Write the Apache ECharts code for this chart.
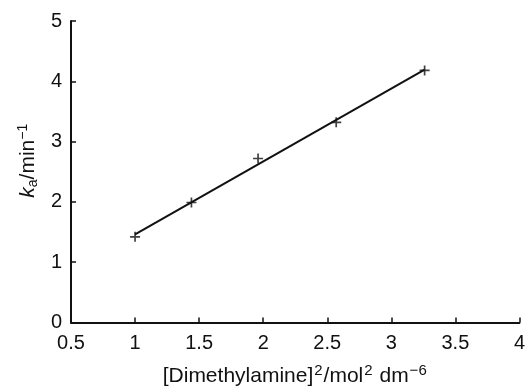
<!DOCTYPE html>
<html>
<head>
<meta charset="utf-8">
<script src="https://cdn.jsdelivr.net/npm/echarts@6/dist/echarts.min.js"></script>
<style>
  html, body { margin: 0; padding: 0; background: #fff; }
  #chart { width: 528px; height: 392px; }
</style>
</head>
<body>
<div id="chart"></div>
<script>
// measured points: [dimethylamine]^2 vs k_a
const conc2 = [1.0, 1.44, 1.96, 2.57, 3.26];
const ka = [1.42, 1.99, 2.72, 3.32, 4.18];
const xTickRange = [0.5, 4, 0.5];
const yTickRange = [0, 5, 1];

// least squares line through the points, drawn over the data range
const n = conc2.length;
const mx = conc2.reduce((a, b) => a + b, 0) / n;
const my = ka.reduce((a, b) => a + b, 0) / n;
let sxy = 0, sxx = 0;
for (let i = 0; i < n; i++) {
  sxy += (conc2[i] - mx) * (ka[i] - my);
  sxx += (conc2[i] - mx) * (conc2[i] - mx);
}
const slope = sxy / sxx;
const icpt = my - slope * mx;
const xLo = Math.min(...conc2), xHi = Math.max(...conc2);
const fitLine = [[xLo, icpt + slope * xLo], [xHi, icpt + slope * xHi]];

const font = '"Liberation Sans", Arial, Helvetica, sans-serif';
const ink = '#111';
const plus = 'path://M-0.17,-1 L0.17,-1 L0.17,-0.17 L1,-0.17 L1,0.17 L0.17,0.17 L0.17,1 L-0.17,1 L-0.17,0.17 L-1,0.17 L-1,-0.17 L-0.17,-0.17 Z';

const chart = echarts.init(document.getElementById('chart'), null, { renderer: 'canvas' });
chart.setOption({
  backgroundColor: '#fff',
  animation: false,
  grid: { left: 71, right: 7, top: 21, bottom: 63, containLabel: false },
  xAxis: {
    type: 'value',
    min: xTickRange[0], max: xTickRange[1], interval: xTickRange[2],
    splitLine: { show: false },
    axisLine: { onZero: false, lineStyle: { color: ink, width: 2 } },
    axisTick: { inside: true, length: 5, lineStyle: { color: ink, width: 1.5 } },
    axisLabel: { color: ink, fontSize: 20, fontFamily: font, margin: 11 },
    name: '[Dimethylamine]{sup|2}/mol{sup|2} dm{sup|−6}',
    nameLocation: 'middle',
    nameGap: 41,
    nameTextStyle: {
      color: ink, fontSize: 21, fontFamily: font,
      rich: {
        sup: { fontSize: 15, color: ink, fontFamily: font, padding: [0, 1, 11, 1] }
      }
    }
  },
  yAxis: {
    type: 'value',
    min: yTickRange[0], max: yTickRange[1], interval: yTickRange[2],
    splitLine: { show: false },
    axisLine: { show: true, lineStyle: { color: ink, width: 2 } },
    axisTick: { show: true, inside: true, length: 5, lineStyle: { color: ink, width: 1.5 } },
    axisLabel: { color: ink, fontSize: 20, fontFamily: font, margin: 9 },
    name: '{it|k}{sub|a}/min{sup|−1}',
    nameLocation: 'middle',
    nameGap: 30,
    nameRotate: 90,
    nameTextStyle: {
      color: ink, fontSize: 21, fontFamily: font,
      padding: [0, 0, 0, 22],
      rich: {
        it: { fontStyle: 'italic', fontSize: 21, color: ink, fontFamily: font },
        sub: { fontSize: 14, color: ink, fontFamily: font, padding: [9, 0, 0, 0] },
        sup: { fontSize: 14, color: ink, fontFamily: font, padding: [0, 0, 11, 0] }
      }
    }
  },
  series: [
    {
      type: 'line',
      data: fitLine,
      symbol: 'none',
      lineStyle: { color: ink, width: 2 },
      silent: true
    },
    {
      type: 'scatter',
      data: conc2.map((x, i) => [x, ka[i]]),
      symbol: plus,
      symbolSize: 10,
      itemStyle: { color: ink }
    }
  ]
});
</script>
</body>
</html>
